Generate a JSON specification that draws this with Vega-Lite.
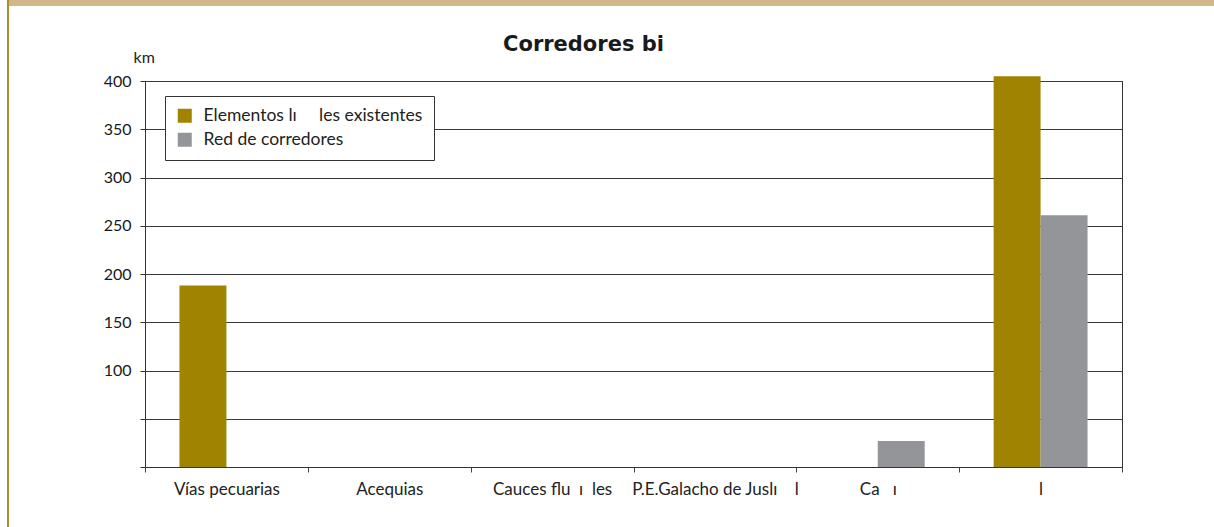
{
  "$schema": "https://vega.github.io/schema/vega-lite/v6.json",
  "padding": {"left": 7, "top": 0, "right": 0, "bottom": 0},
  "background": "white",
  "config": {"font": "Lato", "view": {"stroke": null}},
  "spacing": 0,
  "bounds": "flush",
  "hconcat": [
    {
      "width": 2,
      "height": 527,
      "view": {"fill": "#ae8f2b", "stroke": null},
      "data": {"values": []},
      "mark": "rect"
    },
    {
      "spacing": 75,
      "bounds": "flush",
      "vconcat": [
        {
          "width": 1205,
          "height": 6,
          "view": {"fill": "#cfb887", "stroke": null},
          "data": {"values": []},
          "mark": "rect"
        },
        {
          "spacing": 0,
          "bounds": "flush",
          "hconcat": [
            {
              "width": 136,
              "height": 386,
              "view": {"stroke": null},
              "data": {"values": []},
              "mark": "rect"
            },
            {
              "width": 977,
              "height": 386,
              "view": {"stroke": "#333333", "strokeWidth": 1},
              "title": {
                "text": "Corredores bi",
                "font": "DejaVu Sans",
                "fontSize": 21,
                "fontWeight": "bold",
                "color": "#1a1a1a",
                "anchor": "middle",
                "dx": -50,
                "offset": -6
              },
              "data": {
                "values": [
                  {"categoria": "Vías pecuarias", "serie": "Elementos lı\u00a0\u00a0\u00a0\u00a0\u00a0les existentes", "km": 188},
                  {"categoria": "Vías pecuarias", "serie": "Red de corredores", "km": 0},
                  {"categoria": "Acequias", "serie": "Elementos lı\u00a0\u00a0\u00a0\u00a0\u00a0les existentes", "km": 0},
                  {"categoria": "Acequias", "serie": "Red de corredores", "km": 0},
                  {"categoria": "Cauces flu\u00a0\u00a0ı\u00a0\u00a0les", "serie": "Elementos lı\u00a0\u00a0\u00a0\u00a0\u00a0les existentes", "km": 0},
                  {"categoria": "Cauces flu\u00a0\u00a0ı\u00a0\u00a0les", "serie": "Red de corredores", "km": 0},
                  {"categoria": "P.E.Galacho de Juslı\u00a0\u00a0\u00a0\u00a0l", "serie": "Elementos lı\u00a0\u00a0\u00a0\u00a0\u00a0les existentes", "km": 0},
                  {"categoria": "P.E.Galacho de Juslı\u00a0\u00a0\u00a0\u00a0l", "serie": "Red de corredores", "km": 0},
                  {"categoria": "Ca\u00a0\u00a0\u00a0ı", "serie": "Elementos lı\u00a0\u00a0\u00a0\u00a0\u00a0les existentes", "km": 0},
                  {"categoria": "Ca\u00a0\u00a0\u00a0ı", "serie": "Red de corredores", "km": 27},
                  {"categoria": "l", "serie": "Elementos lı\u00a0\u00a0\u00a0\u00a0\u00a0les existentes", "km": 405},
                  {"categoria": "l", "serie": "Red de corredores", "km": 261}
                ]
              },
              "mark": {"type": "bar"},
              "encoding": {
                "x": {
                  "field": "categoria",
                  "type": "nominal",
                  "sort": null,
                  "scale": {"paddingInner": 0, "paddingOuter": 0},
                  "axis": {
                    "title": null,
                    "labelAngle": 0,
                    "tickBand": "extent",
                    "tickSize": 5,
                    "tickColor": "#444444",
                    "domainColor": "#333333",
                    "labelPadding": 9,
                    "labelFontSize": 17,
                    "labelColor": "#222222",
                    "labelLimit": 0,
                    "grid": false
                  }
                },
                "xOffset": {
                  "field": "serie",
                  "type": "nominal",
                  "sort": null,
                  "scale": {"paddingInner": 0, "paddingOuter": 0.734}
                },
                "y": {
                  "field": "km",
                  "type": "quantitative",
                  "scale": {"domain": [0, 400], "nice": false},
                  "axis": {
                    "title": "km",
                    "titleAngle": 0,
                    "titleAlign": "left",
                    "titleBaseline": "alphabetic",
                    "titleX": -12,
                    "titleY": -19,
                    "titleFontSize": 16,
                    "titleFontWeight": "normal",
                    "titleColor": "#222222",
                    "values": [0, 50, 100, 150, 200, 250, 300, 350, 400],
                    "labelExpr": "datum.value < 100 ? '' : datum.label",
                    "labelFontSize": 16,
                    "labelColor": "#1a1a1a",
                    "labelPadding": 9,
                    "tickSize": 5,
                    "tickColor": "#333333",
                    "domainColor": "#333333",
                    "grid": true,
                    "gridColor": "#3a3a3a",
                    "gridOpacity": 1
                  }
                },
                "color": {
                  "field": "serie",
                  "type": "nominal",
                  "sort": null,
                  "scale": {"range": ["#a08300", "#939598"]},
                  "legend": {
                    "title": null,
                    "orient": "none",
                    "legendX": 158,
                    "legendY": 96,
                    "direction": "vertical",
                    "fillColor": "white",
                    "strokeColor": "#333333",
                    "padding": 11,
                    "symbolType": "square",
                    "symbolSize": 196,
                    "symbolStrokeWidth": 0,
                    "symbolOpacity": 1,
                    "labelFontSize": 17.5,
                    "labelColor": "#222222",
                    "labelOffset": 10,
                    "labelLimit": 0,
                    "rowPadding": 5
                  }
                }
              }
            }
          ]
        }
      ]
    }
  ]
}
